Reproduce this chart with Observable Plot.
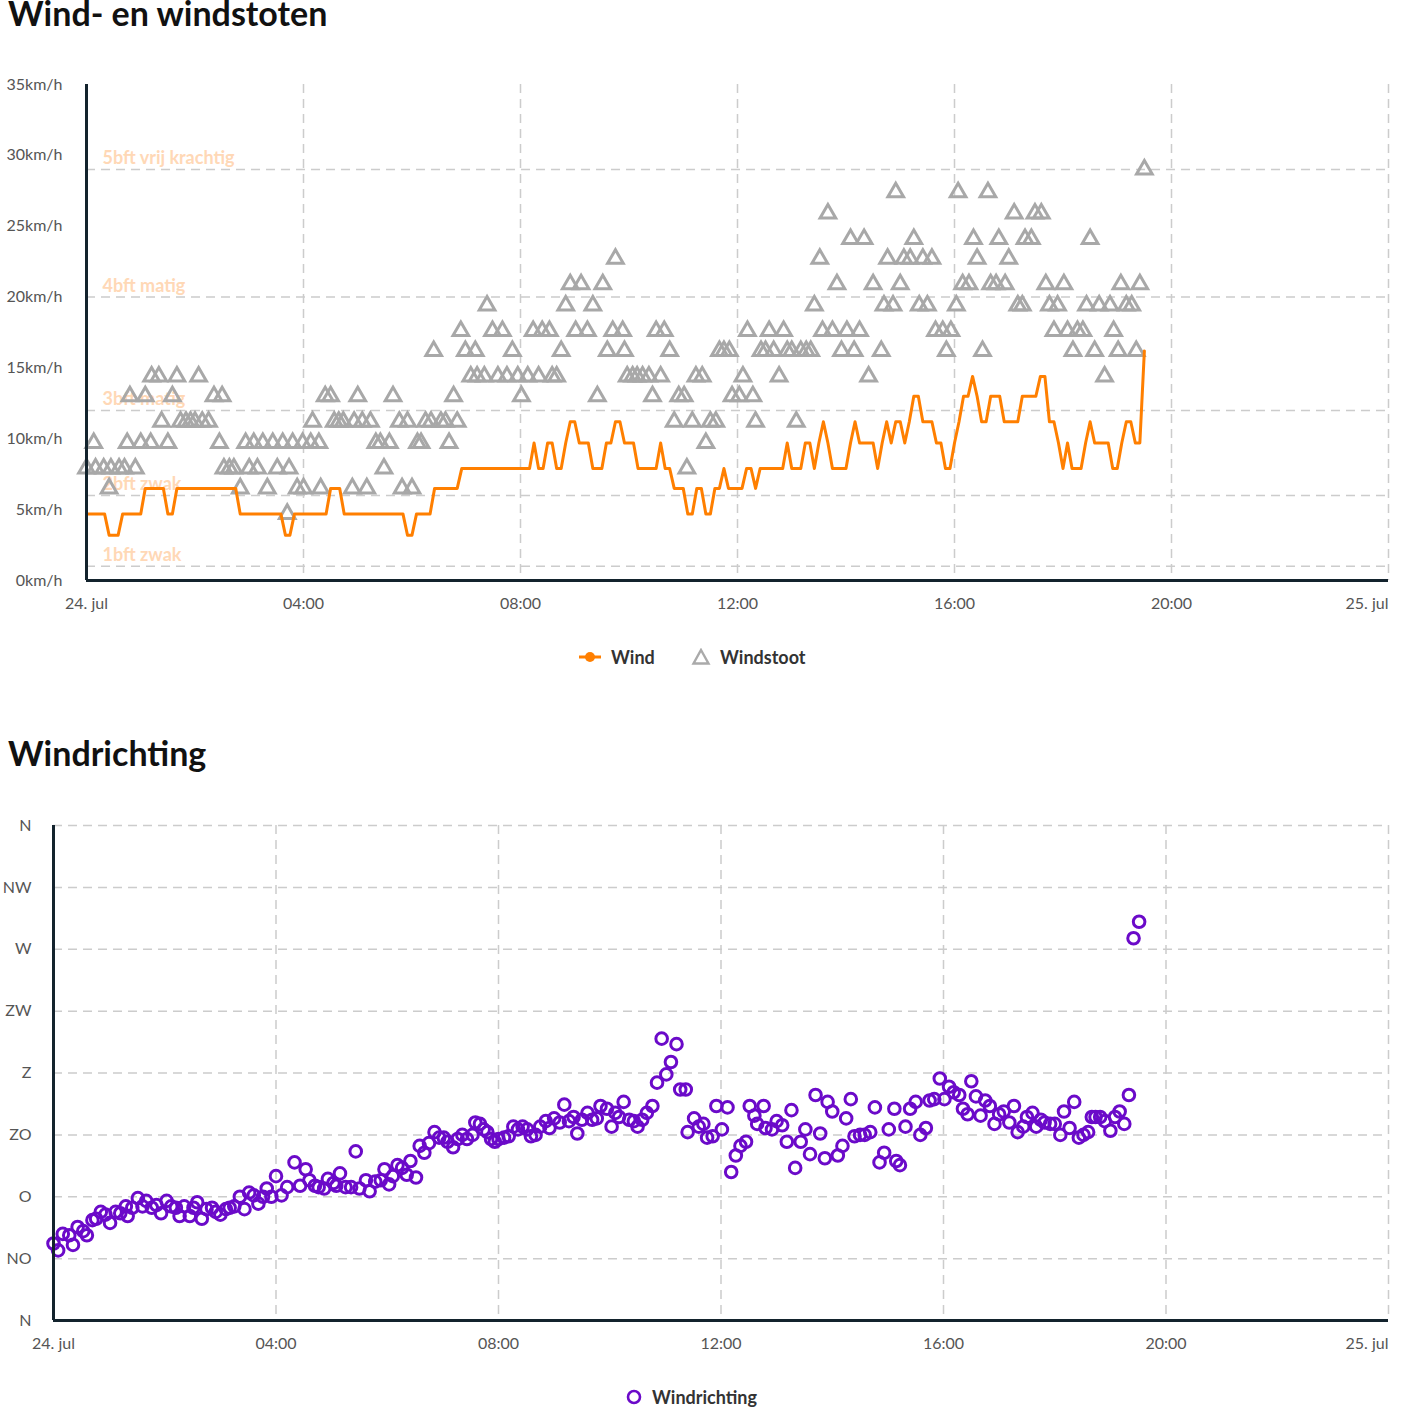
<!DOCTYPE html>
<html>
<head>
<meta charset="utf-8">
<script src="https://cdn.jsdelivr.net/npm/d3@7"></script>
<script src="https://cdn.jsdelivr.net/npm/@observablehq/plot@0.6"></script>
<style>
  body { margin: 0; background: #fff; font-family: Lato, "Open Sans", sans-serif; }
  #page { position: relative; width: 1406px; height: 1420px; overflow: hidden; }
  h2 { position: absolute; left: 8px; margin: 0; font-size: 34px; line-height: 34px; font-weight: 700; color: #111; white-space: nowrap; }
  .chart { position: absolute; left: 0; }
  .lg { position: absolute; display: flex; align-items: center; font-size: 18px; font-weight: 700; color: #333; line-height: 18px; white-space: nowrap; }
  .lg svg { margin-right: 9px; }
</style>
</head>
<body>
<div id="page">
  <h2 style="top:-4px">Wind- en windstoten</h2>
  <div id="c1" class="chart" style="top:60px"></div>
  <div class="lg" style="left:578px; top:648px">
    <svg width="24" height="18"><line x1="1" y1="9" x2="23" y2="9" stroke="#ff7f00" stroke-width="3"/><circle cx="12" cy="9" r="5" fill="#ff7f00"/></svg>Wind
  </div>
  <div class="lg" style="left:691px; top:648px">
    <svg width="20" height="18"><path d="M10,2 L17.5,15.5 L2.5,15.5 Z" fill="none" stroke="#aaaaaa" stroke-width="2.4"/></svg>Windstoot
  </div>
  <h2 style="top:736px">Windrichting</h2>
  <div id="c2" class="chart" style="top:800px"></div>
  <div class="lg" style="left:625px; top:1388px">
    <svg width="18" height="18"><circle cx="9" cy="9" r="6" fill="none" stroke="#6b0ac9" stroke-width="2.6"/></svg>Windrichting
  </div>
</div>
<script>
// ---------- data ----------
const xTickHours = [0, 4, 8, 12, 16, 20, 24];
const xTickLabels = ["24. jul", "04:00", "08:00", "12:00", "16:00", "20:00", "25. jul"];

const yTicks = [0, 5, 10, 15, 20, 25, 30, 35];
const bftKmh = [1, 6, 12, 20, 29];
const bftLabels = ["1bft zwak", "2bft zwak", "3bft matig", "4bft matig", "5bft vrij krachtig"];

// wind (km/h), one value every 5 minutes from 00:00
const windStepMin = 5;
const windKmh = [
  4.7,4.7,4.7,4.7,4.7,3.2,3.2,3.2,4.7,4.7,4.7,4.7,
  4.7,6.5,6.5,6.5,6.5,6.5,4.7,4.7,6.5,6.5,6.5,6.5,
  6.5,6.5,6.5,6.5,6.5,6.5,6.5,6.5,6.5,6.5,4.7,4.7,
  4.7,4.7,4.7,4.7,4.7,4.7,4.7,4.7,3.2,3.2,4.7,4.7,
  4.7,4.7,4.7,4.7,4.7,4.7,6.5,6.5,6.5,4.7,4.7,4.7,
  4.7,4.7,4.7,4.7,4.7,4.7,4.7,4.7,4.7,4.7,4.7,3.2,
  3.2,4.7,4.7,4.7,4.7,6.5,6.5,6.5,6.5,6.5,6.5,7.9,
  7.9,7.9,7.9,7.9,7.9,7.9,7.9,7.9,7.9,7.9,7.9,7.9,
  7.9,7.9,7.9,9.7,7.9,7.9,9.7,9.7,7.9,7.9,9.7,11.2,
  11.2,9.7,9.7,9.7,7.9,7.9,7.9,9.7,9.7,11.2,11.2,9.7,
  9.7,9.7,7.9,7.9,7.9,7.9,7.9,9.7,7.9,7.9,6.5,6.5,
  6.5,4.7,4.7,6.5,6.5,4.7,4.7,6.5,6.5,7.9,6.5,6.5,
  6.5,6.5,7.9,7.9,6.5,7.9,7.9,7.9,7.9,7.9,7.9,9.7,
  7.9,7.9,7.9,9.7,9.7,7.9,9.7,11.2,9.7,7.9,7.9,7.9,
  7.9,9.7,11.2,9.7,9.7,9.7,9.7,7.9,9.7,11.2,9.7,11.2,
  11.2,9.7,11.2,13.0,13.0,11.2,11.2,11.2,9.7,9.7,7.9,7.9,
  9.7,11.2,13.0,13.0,14.4,13.0,11.2,11.2,13.0,13.0,13.0,11.2,
  11.2,11.2,11.2,13.0,13.0,13.0,13.0,14.4,14.4,11.2,11.2,9.7,
  7.9,9.7,7.9,7.9,7.9,9.7,11.2,9.7,9.7,9.7,9.7,7.9,
  7.9,9.7,11.2,11.2,9.7,9.7,16.2
];

// gusts: [minutes after 00:00, km/h]
const gusts = [
  [0,7.9],[8,9.7],[10,7.9],[19,7.9],[25,6.5],[27,7.9],[36,7.9],[42,7.9],[45,9.7],[48,13.0],[54,7.9],[60,9.7],
  [65,13.0],[71,9.7],[72,14.4],[80,14.4],[83,11.2],[90,9.7],[95,13.0],[100,14.4],[104,11.2],[110,11.2],[115,11.2],
  [120,11.2],[124,14.4],[128,11.2],[135,11.2],[141,13.0],[147,9.7],[150,13.0],[152,7.9],[158,7.9],[163,7.9],
  [170,6.5],[176,9.7],[180,7.9],[185,9.7],[189,7.9],[195,9.7],[200,6.5],[206,9.7],[211,7.9],[217,9.7],[222,4.7],
  [224,7.9],[228,9.7],[233,6.5],[239,9.7],[240,6.5],[248,9.7],[250,11.2],[257,9.7],[259,6.5],[264,13.0],[270,13.0],
  [274,11.2],[279,11.2],[284,11.2],
  [294,6.5],[296,11.2],[300,13.0],[305,11.2],[310,6.5],[314,11.2],[320,9.7],[325,9.7],[329,7.9],[335,9.7],
  [339,13.0],[346,11.2],[349,6.5],[355,11.2],[360,6.5],[366,9.7],[370,9.7],[375,11.2],[381,11.2],[384,16.2],
  [392,11.2],[397,11.2],[401,9.7],[406,13.0],[410,11.2],[414,17.6],[419,16.2],[425,14.4],[430,16.2],[432,14.4],
  [440,14.4],[443,19.4],[449,17.6],[455,14.4],[460,17.6],[465,14.4],[471,16.2],[477,14.4],[481,13.0],[488,14.4],
  [494,17.6],[500,14.4],[504,17.6],[512,17.6],[515,14.4],[520,14.4],[525,16.2],[530,19.4],[535,20.9],[541,17.6],
  [547,20.9],[554,17.6],[560,19.4],[565,13.0],[571,20.9],[576,16.2],[582,17.6],[585,22.7],
  [593,17.6],[595,16.2],[598,14.4],[604,14.4],[609,14.4],[615,14.4],[622,14.4],[626,13.0],[630,17.6],[635,14.4],
  [639,17.6],[645,16.2],[650,11.2],[655,13.0],[661,13.0],[664,7.9],[670,11.2],[674,14.4],[681,14.4],[685,9.7],
  [690,11.2],[696,11.2],[700,16.2],[705,16.2],[711,16.2],[714,13.0],[722,13.0],[726,14.4],[731,17.6],[737,13.0],
  [740,11.2],[746,16.2],[751,16.2],[755,17.6],[760,16.2],[766,14.4],[771,17.6],[775,16.2],[780,16.2],[785,11.2],
  [790,16.2],[796,16.2],[801,16.2],[805,19.4],[811,22.7],[814,17.6],[820,25.9],[825,17.6],[830,20.9],[835,16.2],
  [841,17.6],[845,24.1],[849,16.2],[855,17.6],[860,24.1],[865,14.4],[870,20.9],
  [879,16.2],[882,19.4],[886,22.7],[892,19.4],[895,27.4],[900,20.9],[904,22.7],[911,22.7],[915,24.1],[921,19.4],
  [925,22.7],[930,19.4],[935,22.7],[939,17.6],[947,17.6],[951,16.2],[956,17.6],[962,19.4],[964,27.4],[969,20.9],
  [976,20.9],[981,24.1],[985,22.7],[991,16.2],[997,27.4],[1000,20.9],[1006,20.9],[1009,24.1],[1016,20.9],[1020,22.7],
  [1026,25.9],[1030,19.4],[1035,19.4],[1038,24.1],[1045,24.1],[1049,25.9],[1056,25.9],[1061,20.9],[1065,19.4],
  [1070,17.6],[1074,19.4],[1081,20.9],[1085,17.6],[1091,16.2],[1096,17.6],[1102,17.6],[1106,19.4],[1110,24.1],
  [1115,16.2],[1120,19.4],[1126,14.4],[1132,19.4],[1136,17.6],[1141,16.2],[1144,20.9],[1150,19.4],[1156,19.4],
  [1161,16.2],[1165,20.9],[1170,29.0]
];

const dirTicks = [0, 45, 90, 135, 180, 225, 270, 315, 360];
const dirLabels = ["N", "NO", "O", "ZO", "Z", "ZW", "W", "NW", "N"];

// wind direction: [minutes after 00:00, degrees]
const directions = [
  [0,56],[5,51],[10,63],[17,62],[21,55],[26,68],[32,65],[36,62],[42,73],[46,74],[51,79],[56,77],[61,71],[67,79],
  [72,78],[78,83],[80,76],[85,82],[91,89],[96,83],[100,87],[106,82],[111,84],[116,78],[122,87],[127,83],[132,82],
  [136,76],[141,83],[147,76],[151,82],[155,86],[160,74],[165,81],[171,82],[175,79],[180,77],[186,81],[190,82],
  [195,83],[201,90],[206,81],[211,93],[216,91],[221,85],[226,90],[230,96],[235,90],[240,105],[246,91],[252,97],
  [260,115],[266,98],[272,110],[276,102],[282,98],[286,97],[292,96],[296,103],[302,100],[305,98],[309,107],
  [315,97],[321,97],[326,123],[330,96],[337,102],[341,94],[347,101],[353,102],[357,110],[362,99],[366,105],
  [371,113],[376,111],[381,106],[385,116],[391,104],[395,127],[400,122],[405,129],[411,137],[416,133],[421,133],
  [425,130],[431,126],[436,132],[441,135],[446,132],[452,135],[455,144],[460,143],[464,139],[468,137],[472,132],
  [476,130],[480,132],[486,133],[491,134],[496,141],[501,139],[506,141],[511,139],[515,134],[520,135],[525,141],
  [531,145],[535,140],[540,147],[546,144],[551,157],[556,145],[561,148],[565,136],[570,146],[576,151],[581,146],
  [586,147],[590,156],[597,154],[602,141],[606,151],
  [610,148],[615,159],[621,146],[626,145],[630,141],[635,146],[640,151],[646,156],[651,173],[656,205],[661,179],
  [666,188],[672,201],[676,168],[682,168],[684,137],[691,147],[696,141],[701,143],[705,133],[711,134],[715,156],
  [721,139],[727,155],[731,108],[736,120],[741,127],[747,130],[751,156],[756,149],[759,143],[766,156],[768,140],
  [775,139],[780,145],[786,142],[791,130],[796,153],[800,111],[806,130],[811,139],[816,121],[822,164],[827,136],
  [832,118],[835,159],[840,152],[846,120],[851,127],[855,147],[860,161],[864,134],[870,135],[875,135],[881,137],
  [886,155],[891,115],[896,122],[901,139],[907,154],[909,116],[913,113],
  [919,141],[924,154],[930,159],[935,135],[941,140],[945,160],[950,161],[956,176],[961,161],[966,170],[971,166],
  [977,164],[981,154],[986,150],[990,174],[995,163],[1000,149],[1005,160],[1010,156],[1015,143],[1020,150],
  [1025,152],[1031,144],[1036,156],[1040,137],[1046,141],[1050,148],[1056,151],[1060,141],[1065,146],[1069,144],
  [1075,143],[1080,143],[1086,135],[1090,152],[1096,140],[1101,159],[1106,133],[1111,135],[1116,137],[1120,148],
  [1124,148],[1129,148],[1134,145],[1140,138],[1145,148],[1150,152],[1155,143],[1160,164],[1165,278],[1171,290]
];

// ---------- build ----------
const t0 = Date.UTC(2024, 6, 24);
const at = m => new Date(t0 + m * 60000);
const xDomain = [at(0), at(24 * 60)];
const xTicks = xTickHours.map(h => at(h * 60));
const fmtX = d => xTickLabels[xTickHours.indexOf(Math.round((d - t0) / 3600000))];

const windData = windKmh.map((v, i) => ({ t: at(i * windStepMin), v }));
const gustData = gusts.map(([m, v]) => ({ t: at(m), v }));
const dirData = directions.map(([m, d]) => ({ t: at(m), d }));

const grid = { stroke: "#cccccc", strokeWidth: 1.5, strokeDasharray: "9,6" };
const axisLine = { stroke: "#13232d", strokeWidth: 3 };
const tickText = { fill: "#555", fontSize: 16, tickSize: 0, label: null };
const common = {
  width: 1406, height: 570, marginRight: 18,
  style: { fontFamily: "Lato, 'Open Sans', sans-serif", fontSize: "16px", background: "transparent", overflow: "visible" }
};
const xAxes = [
  Plot.axisX({ ticks: xTicks.slice(0, -1), tickFormat: fmtX, tickPadding: 17, ...tickText }),
  Plot.axisX({ ticks: xTicks.slice(-1), tickFormat: fmtX, tickPadding: 17, textAnchor: "end", ...tickText })
];

const chart1 = Plot.plot({
  ...common, marginTop: 24, marginBottom: 50, marginLeft: 86,
  x: { type: "utc", domain: xDomain },
  y: { domain: [0, 35], label: null },
  marks: [
    Plot.ruleX(xTicks.slice(1), grid),
    Plot.ruleY(bftKmh, grid),
    Plot.text(bftKmh, { x: () => xDomain[0], y: d => d, text: (d, i) => bftLabels[i], dx: 16, dy: -11,
      textAnchor: "start", fill: "#ffd8b6", fontSize: 18, fontWeight: 700 }),
    Plot.dot(gustData, { x: "t", y: "v", symbol: "triangle", r: 5.8, stroke: "#a8a8a8", strokeWidth: 3, fill: "none" }),
    Plot.line(windData, { x: "t", y: "v", stroke: "#ff7f00", strokeWidth: 3, strokeLinejoin: "round" }),
    Plot.ruleX([xDomain[0]], { y1: 0, y2: 35, ...axisLine }),
    Plot.ruleY([0], axisLine),
    Plot.axisY({ ticks: yTicks, tickFormat: d => d + "km/h", tickPadding: 24, ...tickText }),
    ...xAxes
  ]
});
document.getElementById("c1").append(chart1);

const chart2 = Plot.plot({
  ...common, marginTop: 25, marginBottom: 50, marginLeft: 53,
  x: { type: "utc", domain: xDomain },
  y: { domain: [0, 360], label: null },
  marks: [
    Plot.ruleX(xTicks.slice(1), grid),
    Plot.ruleY(dirTicks.slice(1), grid),
    Plot.dot(dirData, { x: "t", y: "d", r: 5.8, stroke: "#6b0ac9", strokeWidth: 3, fill: "none" }),
    Plot.ruleX([xDomain[0]], { y1: 0, y2: 360, ...axisLine }),
    Plot.ruleY([0], axisLine),
    Plot.axisY({ ticks: dirTicks, tickFormat: d => dirLabels[dirTicks.indexOf(d)], tickPadding: 22, ...tickText }),
    ...xAxes
  ]
});
document.getElementById("c2").append(chart2);
</script>
</body>
</html>
